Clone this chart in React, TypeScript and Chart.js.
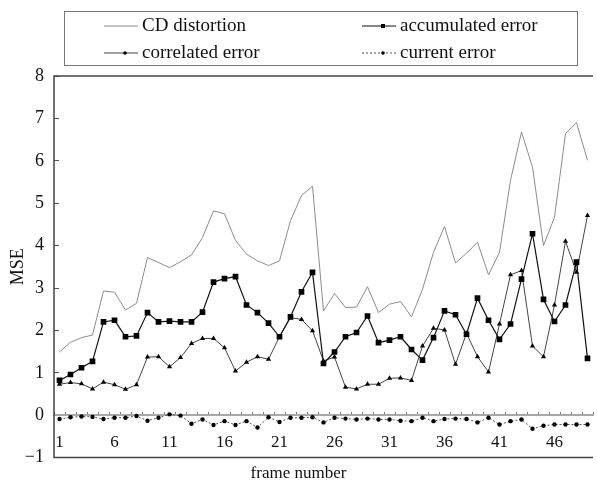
import React, { useEffect, useRef } from 'react';
import { Chart, registerables } from 'chart.js';

Chart.register(...registerables);

const frames = Array.from({ length: 49 }, (_, i) => String(i + 1));
const shownFrameLabels = ['1', '6', '11', '16', '21', '26', '31', '36', '41', '46'];
const yMin = -1;
const yMax = 8;

const seriesNames = ['CD distortion', 'accumulated error', 'correlated error', 'current error'];

const cdDistortion = [
  1.49, 1.72, 1.83, 1.89, 2.93, 2.9, 2.48, 2.64, 3.72, 3.6,
  3.48, 3.62, 3.78, 4.19, 4.82, 4.75, 4.12, 3.8, 3.64, 3.53,
  3.64, 4.59, 5.18, 5.4, 2.46, 2.87, 2.54, 2.55, 3.03, 2.42,
  2.62, 2.68, 2.32, 2.97, 3.84, 4.45, 3.59, 3.82, 4.08, 3.31,
  3.84, 5.54, 6.68, 5.85, 4.0, 4.67, 6.64, 6.9, 6.01,
];

const accumulatedError = [
  0.82, 0.96, 1.12, 1.27, 2.2, 2.24, 1.85, 1.87, 2.42, 2.2,
  2.22, 2.2, 2.2, 2.43, 3.14, 3.22, 3.27, 2.6, 2.42, 2.17,
  1.85, 2.32, 2.91, 3.37, 1.22, 1.49, 1.85, 1.95, 2.34, 1.71,
  1.77, 1.85, 1.55, 1.3, 1.83, 2.46, 2.37, 1.91, 2.76, 2.24,
  1.79, 2.15, 3.21, 4.28, 2.73, 2.21, 2.6, 3.61, 1.34,
];

const correlatedError = [
  0.73, 0.77, 0.74, 0.62, 0.78, 0.72, 0.61, 0.72, 1.37, 1.38,
  1.14, 1.36, 1.69, 1.81, 1.81, 1.59, 1.04, 1.25, 1.38, 1.32,
  1.85, 2.3, 2.26, 1.99, 1.28, 1.37, 0.66, 0.62, 0.73, 0.73,
  0.87, 0.88, 0.82, 1.63, 2.05, 2.01, 1.2, 1.93, 1.38, 1.02,
  2.15, 3.31, 3.41, 1.63, 1.38, 2.6, 4.1, 3.37, 4.71,
];

const currentError = [
  -0.09, -0.05, -0.03, -0.04, -0.09, -0.06, -0.06, -0.02, -0.13, -0.06,
  0.02, -0.01, -0.2, -0.1, -0.23, -0.14, -0.23, -0.14, -0.29, -0.05,
  -0.16, -0.06, -0.06, -0.05, -0.17, -0.06, -0.08, -0.1, -0.08, -0.1,
  -0.1, -0.13, -0.14, -0.06, -0.14, -0.09, -0.08, -0.09, -0.17, -0.06,
  -0.22, -0.14, -0.1, -0.32, -0.25, -0.22, -0.22, -0.22, -0.22,
];

const FONT = '"Liberation Serif", "DejaVu Serif", serif';

export default function App() {
  const ref = useRef<HTMLCanvasElement | null>(null);

  useEffect(() => {
    const canvas = ref.current;
    if (!canvas) return;

    const frameBorder = {
      id: 'frameBorder',
      afterDatasetsDraw(chart: any) {
        const { ctx, chartArea: a } = chart;
        ctx.save();
        ctx.strokeStyle = '#444';
        ctx.lineWidth = 1.5;
        ctx.setLineDash([]);
        ctx.beginPath();
        ctx.moveTo(a.right, a.top);
        ctx.lineTo(a.left, a.top);
        ctx.lineTo(a.left, a.bottom);
        ctx.lineTo(a.right, a.bottom);
        ctx.stroke();
        ctx.restore();
      },
    };

    const boxedLegend = {
      id: 'boxedLegend',
      afterDraw(chart: any) {
        const { ctx } = chart;
        ctx.save();
        ctx.strokeStyle = '#777';
        ctx.lineWidth = 1;
        ctx.setLineDash([]);
        ctx.strokeRect(64.5, 11.5, 513, 54);
        const cols = [104, 362];
        const rows = [26, 53];
        const symW = 34;
        chart.data.datasets.forEach((ds: any, i: number) => {
          const x = cols[i % 2];
          const y = rows[Math.floor(i / 2)];
          ctx.save();
          ctx.strokeStyle = ds.borderColor;
          ctx.lineWidth = ds.borderWidth;
          ctx.setLineDash(ds.borderDash || []);
          ctx.beginPath();
          ctx.moveTo(x, y);
          ctx.lineTo(x + symW, y);
          ctx.stroke();
          ctx.setLineDash([]);
          ctx.fillStyle = '#000';
          const cx = x + symW / 2 + 4;
          if (ds.pointStyle === 'rect') {
            ctx.fillRect(cx - 2, y - 2, 4, 4);
          } else if (ds.pointRadius > 0) {
            ctx.beginPath();
            ctx.arc(cx, y, 1.8, 0, Math.PI * 2);
            ctx.fill();
          }
          ctx.restore();
          ctx.fillStyle = '#111';
          ctx.font = `19px ${FONT}`;
          ctx.textBaseline = 'middle';
          ctx.textAlign = 'left';
          ctx.fillText(ds.label, x + symW + 4, y);
        });
        ctx.restore();
      },
    };

    const chart = new Chart(canvas, {
      type: 'line',
      data: {
        labels: frames,
        datasets: [
          {
            label: seriesNames[0],
            data: cdDistortion,
            borderColor: '#8c8c8c',
            borderWidth: 1,
            pointRadius: 0,
            tension: 0,
          },
          {
            label: seriesNames[1],
            data: accumulatedError,
            borderColor: '#111',
            borderWidth: 1.2,
            pointStyle: 'rect',
            pointRadius: 4,
            pointBackgroundColor: '#000',
            pointBorderColor: '#000',
            pointBorderWidth: 0,
            tension: 0,
          },
          {
            label: seriesNames[2],
            data: correlatedError,
            borderColor: '#444',
            borderWidth: 1,
            pointStyle: 'triangle',
            pointRadius: 3,
            pointBackgroundColor: '#000',
            pointBorderColor: '#000',
            pointBorderWidth: 0,
            tension: 0,
          },
          {
            label: seriesNames[3],
            data: currentError,
            borderColor: '#555',
            borderWidth: 1,
            borderDash: [2, 2],
            pointStyle: 'circle',
            pointRadius: 2.2,
            pointBackgroundColor: '#000',
            pointBorderColor: '#000',
            pointBorderWidth: 0,
            tension: 0,
          },
        ],
      },
      options: {
        responsive: false,
        animation: false,
        devicePixelRatio: 1,
        layout: { padding: { top: 76, left: 0, right: 0, bottom: 0 } },
        plugins: {
          legend: { display: false },
          tooltip: { enabled: false },
          title: {
            display: true,
            position: 'bottom',
            text: 'frame number',
            color: '#111',
            font: { family: FONT, size: 17, weight: 'normal' },
            padding: { top: 6, bottom: 0 },
          },
        },
        scales: {
          x: {
            type: 'category',
            offset: true,
            position: { y: 0 } as any,
            grid: {
              offset: true,
              drawOnChartArea: false,
              drawTicks: true,
              tickLength: -4,
              color: '#777',
              lineWidth: 1,
            },
            border: { display: true, color: '#a8a8a8', width: 2 },
            ticks: {
              autoSkip: false,
              maxRotation: 0,
              padding: 21,
              color: '#111',
              font: { family: FONT, size: 17 },
              callback: (_v: any, idx: number) =>
                shownFrameLabels.includes(frames[idx]) ? frames[idx] : '',
            },
            afterFit: (scale: any) => {
              scale.paddingLeft = 0;
              scale.paddingRight = 0;
            },
          },
          y: {
            min: yMin,
            max: yMax,
            grid: {
              drawOnChartArea: false,
              drawTicks: true,
              tickLength: -5,
              color: '#555',
            },
            border: { display: false },
            ticks: {
              stepSize: 1,
              padding: 15,
              color: '#111',
              font: { family: FONT, size: 18 },
              callback: (v: any) => String(v).replace('-', '\u2212'),
            },
            title: {
              display: true,
              text: 'MSE',
              color: '#111',
              font: { family: FONT, size: 18 },
              padding: { top: 7, bottom: 0 },
            },
            afterFit: (scale: any) => {
              scale.width = 54;
            },
          },
        },
      },
      plugins: [frameBorder, boxedLegend],
    } as any);

    return () => chart.destroy();
  }, []);

  return (
    <div style={{ position: 'fixed', left: 0, top: 0, width: 597, height: 484, background: '#fff' }}>
      <canvas ref={ref} width={597} height={484} style={{ display: 'block' }} />
    </div>
  );
}
